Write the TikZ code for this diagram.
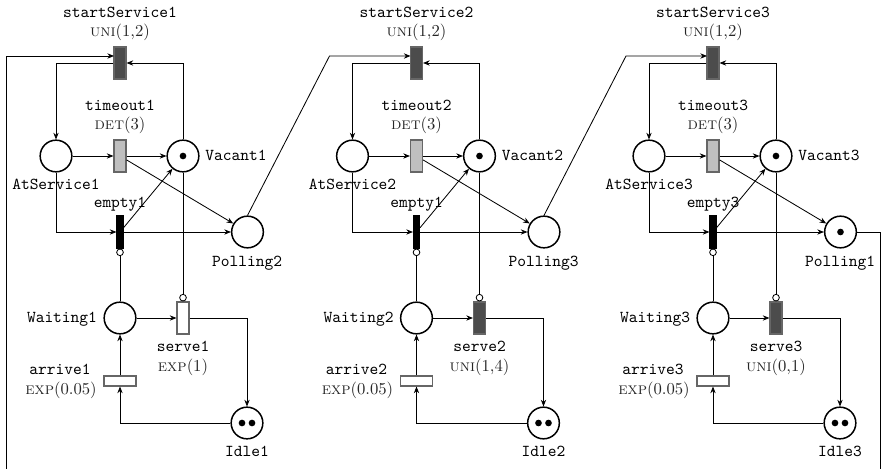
\documentclass[tikz,border=0pt]{standalone}
\usetikzlibrary{arrows.meta}
\begin{document}
\begin{tikzpicture}[x=0.6pt,y=-0.6pt,
  place/.style={circle,draw,line width=0.9pt,minimum size=19pt,inner sep=0pt},
  tok/.style={path picture={\fill (path picture bounding box.center) circle (2pt);}},
  notok/.style={},
  tok2/.style={path picture={\fill ([xshift=-3pt]path picture bounding box.center) circle (2pt);
                             \fill ([xshift=3pt]path picture bounding box.center) circle (2pt);}},
  trans/.style={rectangle,draw=black!60,line width=0.7pt,inner sep=0pt,minimum width=7.2pt,minimum height=19.2pt},
  lbl/.style={font=\ttfamily,inner sep=0pt,text height=1.6ex,text depth=0.25ex},
  dist/.style={font=\rmfamily,text=black!85,inner sep=0pt,text height=1.6ex,text depth=0.25ex},
  arc/.style={line width=0.5pt,-{Stealth[length=4pt,width=3.2pt]}},
  inh/.style={line width=0.5pt,-{Circle[open,length=4.5pt,width=4.5pt]}}
]
\useasboundingbox (0,0) rectangle (883,469);
\clip (0,0) rectangle (883,469);
\foreach \i/\ox/\pn/\en/\sd/\sfil/\ptk in {%
  1/0/2/1/{\textsc{exp}(1)}/white/notok,
  2/296.5/3/1/{\textsc{uni}(1,4)}/black!70/notok,
  3/593/1/3/{\textsc{uni}(0,1)}/black!70/tok}{
\begin{scope}[shift={(\ox,0)}]
  \node[trans,fill=black!70] (ss\i) at (120,63) {};
  \node[lbl] (ssl\i) at (120,13) {startService\i};
  \node[dist] (ssd\i) at (120,32) {\textsc{uni}(1,2)};
  \node[trans,fill=black!25] (to\i) at (120,156) {};
  \node[lbl] (tol\i) at (120,106) {timeout\i};
  \node[dist] (tod\i) at (120,125) {\textsc{det}(3)};
  \node[place] (as\i) at (56,156) {};
  \node[lbl] (asl\i) at (56,185) {AtService\i};
  \node[place,tok] (vac\i) at (183,156) {};
  \node[lbl] (vacl\i) at (236,156) {Vacant\i};
  \node[trans,fill=black,draw=black,minimum width=3.6pt] (em\i) at (120,232) {};
  \node[lbl] (eml\i) at (120,203) {empty\en};
  \node[place,\ptk] (pol\i) at (247.5,232) {};
  \node[lbl] (poll\i) at (247,262) {Polling\pn};
  \node[place] (wa\i) at (120,318) {};
  \node[lbl] (wal\i) at (62,318) {Waiting\i};
  \node[trans,fill=\sfil] (se\i) at (183,318) {};
  \node[lbl] (sel\i) at (183,347) {serve\i};
  \node[dist] (sed\i) at (183,367) {\sd};
  \node[trans,minimum width=19.2pt,minimum height=6pt,fill=white] (ar\i) at (120,381) {};
  \node[lbl] (arl\i) at (60,370) {arrive\i};
  \node[dist] (ard\i) at (61,390) {\textsc{exp}(0.05)};
  \node[place,tok2] (id\i) at (247,423) {};
  \node[lbl] (idl\i) at (247,452) {Idle\i};
  \coordinate (in\i) at (114,56);
  \draw[arc] (ss\i) -| (as\i);
  \draw[arc] (vac\i) |- (ss\i);
  \draw[arc] (as\i) -- (to\i);
  \draw[arc] (to\i) -- (vac\i);
  \draw[arc] (to\i) -- (pol\i);
  \draw[arc] (as\i) |- (em\i);
  \draw[arc] (em\i) -- (vac\i);
  \draw[arc] (em\i) -- (pol\i);
  \draw[inh] (wa\i) -- (em\i);
  \draw[inh] (vac\i) -- (se\i);
  \draw[arc] (wa\i) -- (se\i);
  \draw[arc] (se\i) -| (id\i);
  \draw[arc] (id\i) -| (ar\i);
  \draw[arc] (ar\i) -- (wa\i);
\end{scope}
}
\coordinate (bend2) at (329.5,56);
\coordinate (bend3) at (626,56);
\draw[arc] (pol1.north) -- (bend2) -- (in2);
\draw[arc] (pol2.north) -- (bend3) -- (in3);
\coordinate (loopR) at (880,485);
\coordinate (loopL) at (6,485);
\draw[arc] (pol3.east) -| (loopR) -- (loopL) |- (in1);
\end{tikzpicture}
\end{document}
